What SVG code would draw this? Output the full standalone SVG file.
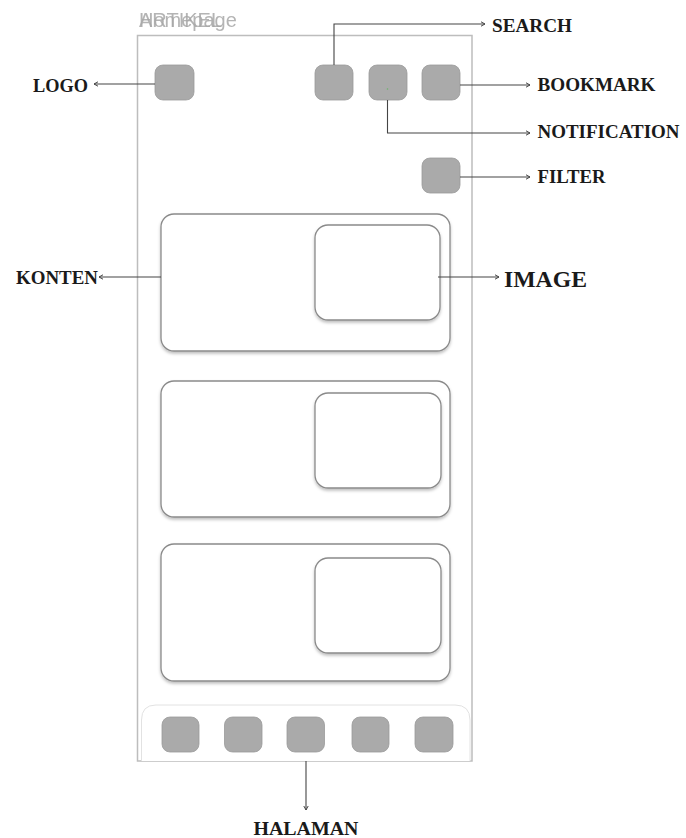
<svg xmlns="http://www.w3.org/2000/svg" width="686" height="838" viewBox="0 0 686 838">
<style>
.lbl{font-family:"Liberation Serif","DejaVu Serif",serif;font-weight:bold;fill:#1a1a1a}
.ttl{font-family:"Liberation Sans",Arial,sans-serif;font-size:20px;fill:#a8a8a8}
.btn{fill:#aaaaaa;stroke:#9a9a9a;stroke-width:0.8}
.card{fill:#ffffff;stroke:#8a8a8a;stroke-width:1.3}
.conn{fill:none;stroke:#444444;stroke-width:1.1}
</style>
<defs>
<marker id="arr" viewBox="0 0 6 6" refX="5" refY="3" markerWidth="6" markerHeight="6" markerUnits="userSpaceOnUse" orient="auto">
<path d="M1,0.8 L5,3 L1,5.2" fill="none" stroke="#444" stroke-width="1"/>
</marker>
<filter id="sh" x="-10%" y="-10%" width="120%" height="130%">
<feDropShadow dx="0" dy="2" stdDeviation="1.5" flood-color="#000" flood-opacity="0.25"/>
</filter>
</defs>
<rect width="686" height="838" fill="#ffffff"/>

<g id="frame">
<rect x="137.5" y="35.5" width="334.5" height="725.5" fill="none" stroke="#bdbdbd" stroke-width="1.5"/>
<text class="ttl" x="139" y="27" opacity="0.85">ARTIKEL</text>
<text class="ttl" x="139" y="27" opacity="0.85">Homepage</text>
</g>

<g id="logo-btn"><rect class="btn" x="155" y="65" width="39" height="35" rx="8"/></g>
<g id="search-btn"><rect class="btn" x="315" y="65" width="38" height="35" rx="8"/></g>
<g id="notification-btn"><rect class="btn" x="369" y="65" width="38" height="35" rx="8"/><circle cx="387.5" cy="89" r="0.8" fill="#6ab46a"/></g>
<g id="bookmark-btn"><rect class="btn" x="422" y="65" width="38" height="35" rx="8"/></g>
<g id="filter-btn"><rect class="btn" x="422" y="158" width="38" height="35" rx="8"/></g>

<g id="card1">
<rect class="card" x="161" y="214" width="289" height="137" rx="13" filter="url(#sh)"/>
<rect class="card" x="315" y="225" width="125" height="95" rx="13" filter="url(#sh)"/>
</g>
<g id="card2">
<rect class="card" x="161" y="381" width="289" height="136" rx="13" filter="url(#sh)"/>
<rect class="card" x="315" y="393" width="126" height="95" rx="13" filter="url(#sh)"/>
</g>
<g id="card3">
<rect class="card" x="161" y="544" width="289" height="137" rx="13" filter="url(#sh)"/>
<rect class="card" x="315" y="558" width="126" height="95" rx="13" filter="url(#sh)"/>
</g>

<g id="bottom-nav">
<path d="M141.5,761 V720 Q141.5,705 156,705 H455 Q470,705 470,720 V761" fill="#ffffff" stroke="#e2e2e2" stroke-width="1"/>
<rect class="btn" x="162" y="717" width="37" height="35" rx="8"/>
<rect class="btn" x="224.5" y="717" width="37.5" height="35" rx="8"/>
<rect class="btn" x="287" y="717" width="37.5" height="35" rx="8"/>
<rect class="btn" x="352" y="717" width="37" height="35" rx="8"/>
<rect class="btn" x="415" y="717" width="38" height="35" rx="8"/>
</g>

<g id="connectors">
<path class="conn" d="M155,84 H94" marker-end="url(#arr)"/>
<path class="conn" d="M334,65 V24 H485" marker-end="url(#arr)"/>
<path class="conn" d="M460,85 H530" marker-end="url(#arr)"/>
<path class="conn" d="M387.5,100 V133 H530" marker-end="url(#arr)"/>
<path class="conn" d="M460,177 H530" marker-end="url(#arr)"/>
<path class="conn" d="M161,277 H99" marker-end="url(#arr)"/>
<path class="conn" d="M438,277 H499" marker-end="url(#arr)"/>
<path class="conn" d="M306,761 V810" marker-end="url(#arr)"/>
</g>

<g id="labels">
<text class="lbl" x="33" y="92" font-size="18" textLength="55" lengthAdjust="spacingAndGlyphs">LOGO</text>
<text class="lbl" x="492" y="32" font-size="18" textLength="80" lengthAdjust="spacingAndGlyphs">SEARCH</text>
<text class="lbl" x="537.5" y="90.5" font-size="18" textLength="118" lengthAdjust="spacingAndGlyphs">BOOKMARK</text>
<text class="lbl" x="537.5" y="138" font-size="18" textLength="142" lengthAdjust="spacingAndGlyphs">NOTIFICATION</text>
<text class="lbl" x="537.5" y="183" font-size="18" textLength="68" lengthAdjust="spacingAndGlyphs">FILTER</text>
<text class="lbl" x="16" y="284" font-size="18" textLength="82" lengthAdjust="spacingAndGlyphs">KONTEN</text>
<text class="lbl" x="504" y="286.5" font-size="23" textLength="83" lengthAdjust="spacingAndGlyphs">IMAGE</text>
<text class="lbl" x="253.5" y="835" font-size="18" textLength="105" lengthAdjust="spacingAndGlyphs">HALAMAN</text>
</g>
</svg>
